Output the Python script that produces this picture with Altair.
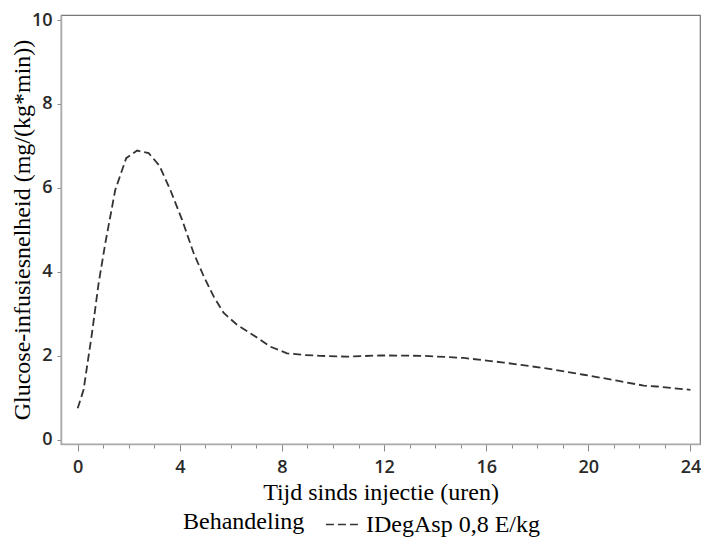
import altair as alt
import pandas as pd

hours = [0.0, 0.23, 0.56, 0.82, 1.08, 1.47, 1.9, 2.33, 2.78, 3.2, 3.63, 4.09, 4.54,
         4.94, 5.33, 5.72, 6.24, 6.96, 7.54, 8.2, 8.9, 9.5, 10.55, 11.85, 13.55,
         15.12, 16.69, 18.25, 19.82, 21.13, 22.17, 22.69, 24.0]
gir = [0.75, 1.19, 2.54, 3.73, 4.68, 5.95, 6.71, 6.89, 6.83, 6.53, 5.95, 5.24, 4.45,
       3.89, 3.41, 3.02, 2.74, 2.46, 2.22, 2.06, 2.02, 2.0, 1.98, 2.01, 2.0,
       1.95, 1.84, 1.71, 1.55, 1.41, 1.29, 1.27, 1.19]
series = "IDegAsp 0,8 E/kg"
x_ticks = list(range(0, 25))
y_ticks = [0, 2, 4, 6, 8, 10]

df = pd.DataFrame({"t": hours, "v": gir, "Behandeling": [series] * len(hours)})

serif = "Liberation Serif"
sans = "Open Sans"

chart = alt.Chart(df).mark_line(strokeWidth=1.8, interpolate="linear").encode(
    x=alt.X("t:Q",
            scale=alt.Scale(domain=[-0.654, 24.375], nice=False, zero=False),
            axis=alt.Axis(values=x_ticks,
                          labelExpr="datum.value % 4 == 0 ? datum.label : ''",
                          tickSize=alt.ExprRef(expr="datum.value % 4 == 0 ? 7 : 4"),
                          title="Tijd sinds injectie (uren)",
                          grid=False)),
    y=alt.Y("v:Q",
            scale=alt.Scale(domain=[-0.1, 10.12], nice=False, zero=False),
            axis=alt.Axis(values=y_ticks, tickSize=4,
                          title="Glucose-infusiesnelheid (mg/(kg*min))",
                          grid=False)),
    color=alt.Color("Behandeling:N",
                    scale=alt.Scale(domain=[series], range=["#333333"]),
                    legend=alt.Legend(orient="none", legendX=122, legendY=492,
                                      direction="horizontal", titleOrient="left",
                                      symbolType="stroke", symbolSize=1100,
                                      symbolStrokeWidth=1.6,
                                      symbolDash=[8, 4], labelLimit=400)),
    strokeDash=alt.StrokeDash("Behandeling:N",
                              scale=alt.Scale(domain=[series], range=[[8, 4]]),
                              legend=None),
).properties(
    width=639, height=429,
    autosize=alt.AutoSizeParams(type="none"),
    padding={"left": 53, "top": 7, "right": 1, "bottom": 95},
).configure_view(
    stroke="#777777", strokeWidth=1.2
).configure_axis(
    domainColor="#aaaaaa", domainWidth=1.5,
    tickColor="#888888", tickWidth=1,
    labelFont=sans, labelFontSize=18, labelFontWeight=600, labelColor="#2a2a2a",
    labelPadding=5,
    titleFont=serif, titleFontSize=24, titleFontWeight="normal", titleColor="#000000",
).configure_axisX(
    labelPadding=7, titlePadding=4,
).configure_axisY(
    titlePadding=-3,
).configure_legend(
    titleFont=serif, titleFontSize=24, titleFontWeight="normal", titleColor="#000000",
    labelFont=serif, labelFontSize=24, labelColor="#000000",
    titlePadding=20, symbolOffset=0, labelOffset=6,
)

chart.save("out.html", embed_options={"renderer": "svg", "actions": False})
